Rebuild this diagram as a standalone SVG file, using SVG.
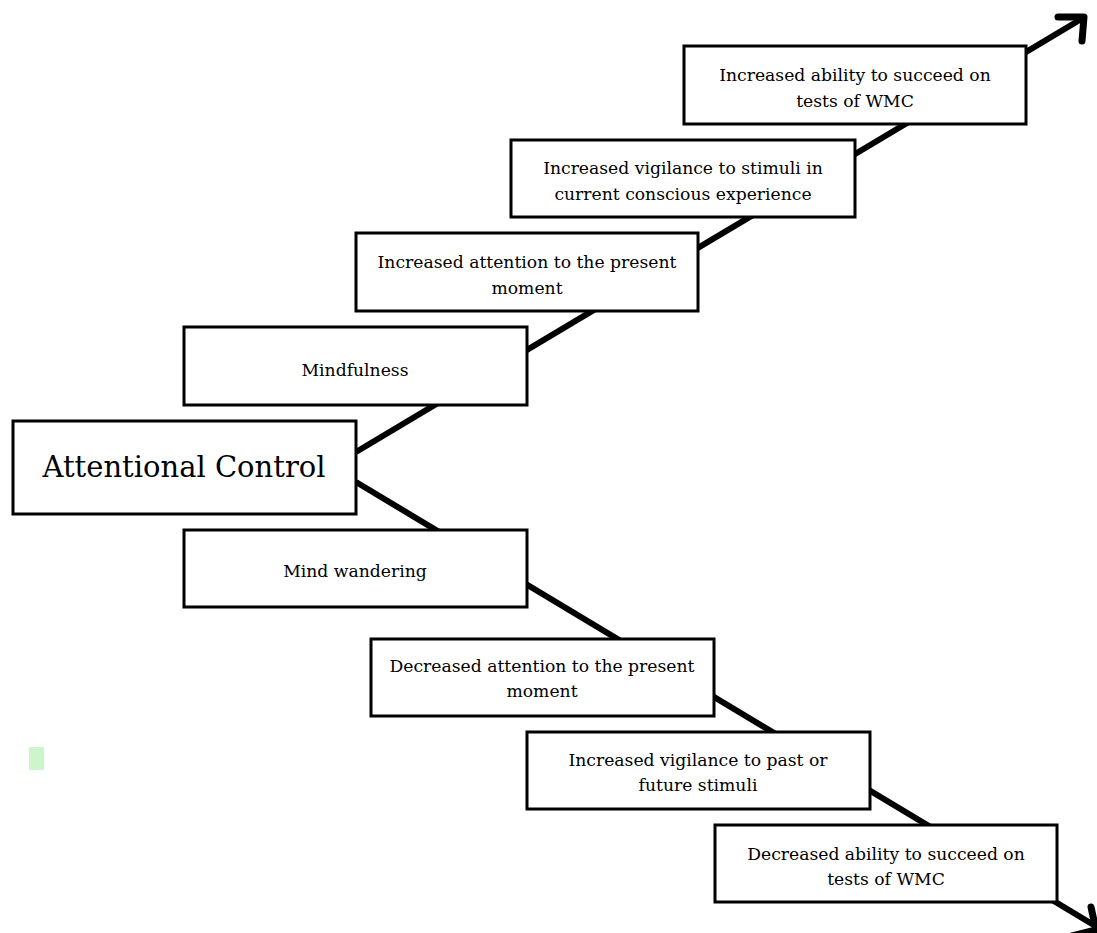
<svg xmlns="http://www.w3.org/2000/svg" width="1097" height="933" viewBox="0 0 1097 933">
<style>
.box{fill:#fff;stroke:#000;stroke-width:3}
.t{font-family:"DejaVu Serif","Liberation Serif",serif;font-size:17.2px;fill:#000;text-anchor:middle}
.big{font-size:29px}
.ln{stroke:#000;stroke-width:6;fill:none;stroke-linecap:butt}
.ah{stroke:#000;stroke-width:7;fill:none;stroke-linecap:round;stroke-linejoin:round}
</style>
<rect width="1097" height="933" fill="#fff"/>
<g id="connectors">
<line class="ln" x1="356" y1="452" x2="1083" y2="18"/>
<polyline class="ah" points="1058,17 1084,17 1082,41"/>
<line class="ln" x1="356" y1="482" x2="1097" y2="927"/>
<polyline class="ah" points="1091,907 1096,930 1072,936"/>
</g>
<g id="n-ability-up"><rect class="box" x="684" y="46" width="342" height="78"/><text class="t" x="855" y="81">Increased ability to succeed on</text><text class="t" x="855" y="107">tests of WMC</text></g>
<g id="n-vigilance-up"><rect class="box" x="511" y="140" width="344" height="77"/><text class="t" x="683" y="174">Increased vigilance to stimuli in</text><text class="t" x="683" y="200">current conscious experience</text></g>
<g id="n-attention-up"><rect class="box" x="356" y="233" width="342" height="78"/><text class="t" x="527" y="268">Increased attention to the present</text><text class="t" x="527" y="294">moment</text></g>
<g id="n-mindfulness"><rect class="box" x="184" y="327" width="343" height="78"/><text class="t" x="355" y="376">Mindfulness</text></g>
<g id="n-attentional"><rect class="box" x="13" y="421" width="343" height="93"/><text class="t big" x="184" y="477">Attentional Control</text></g>
<g id="n-wandering"><rect class="box" x="184" y="530" width="343" height="77"/><text class="t" x="355" y="577">Mind wandering</text></g>
<g id="n-attention-down"><rect class="box" x="371" y="639" width="343" height="77"/><text class="t" x="542" y="672">Decreased attention to the present</text><text class="t" x="542" y="697">moment</text></g>
<g id="n-vigilance-down"><rect class="box" x="527" y="732" width="343" height="77"/><text class="t" x="698" y="766">Increased vigilance to past or</text><text class="t" x="698" y="791">future stimuli</text></g>
<g id="n-ability-down"><rect class="box" x="715" y="825" width="342" height="77"/><text class="t" x="886" y="860">Decreased ability to succeed on</text><text class="t" x="886" y="885">tests of WMC</text></g>
<rect x="29" y="747" width="15" height="23" fill="#ccf5cc"/>
</svg>
